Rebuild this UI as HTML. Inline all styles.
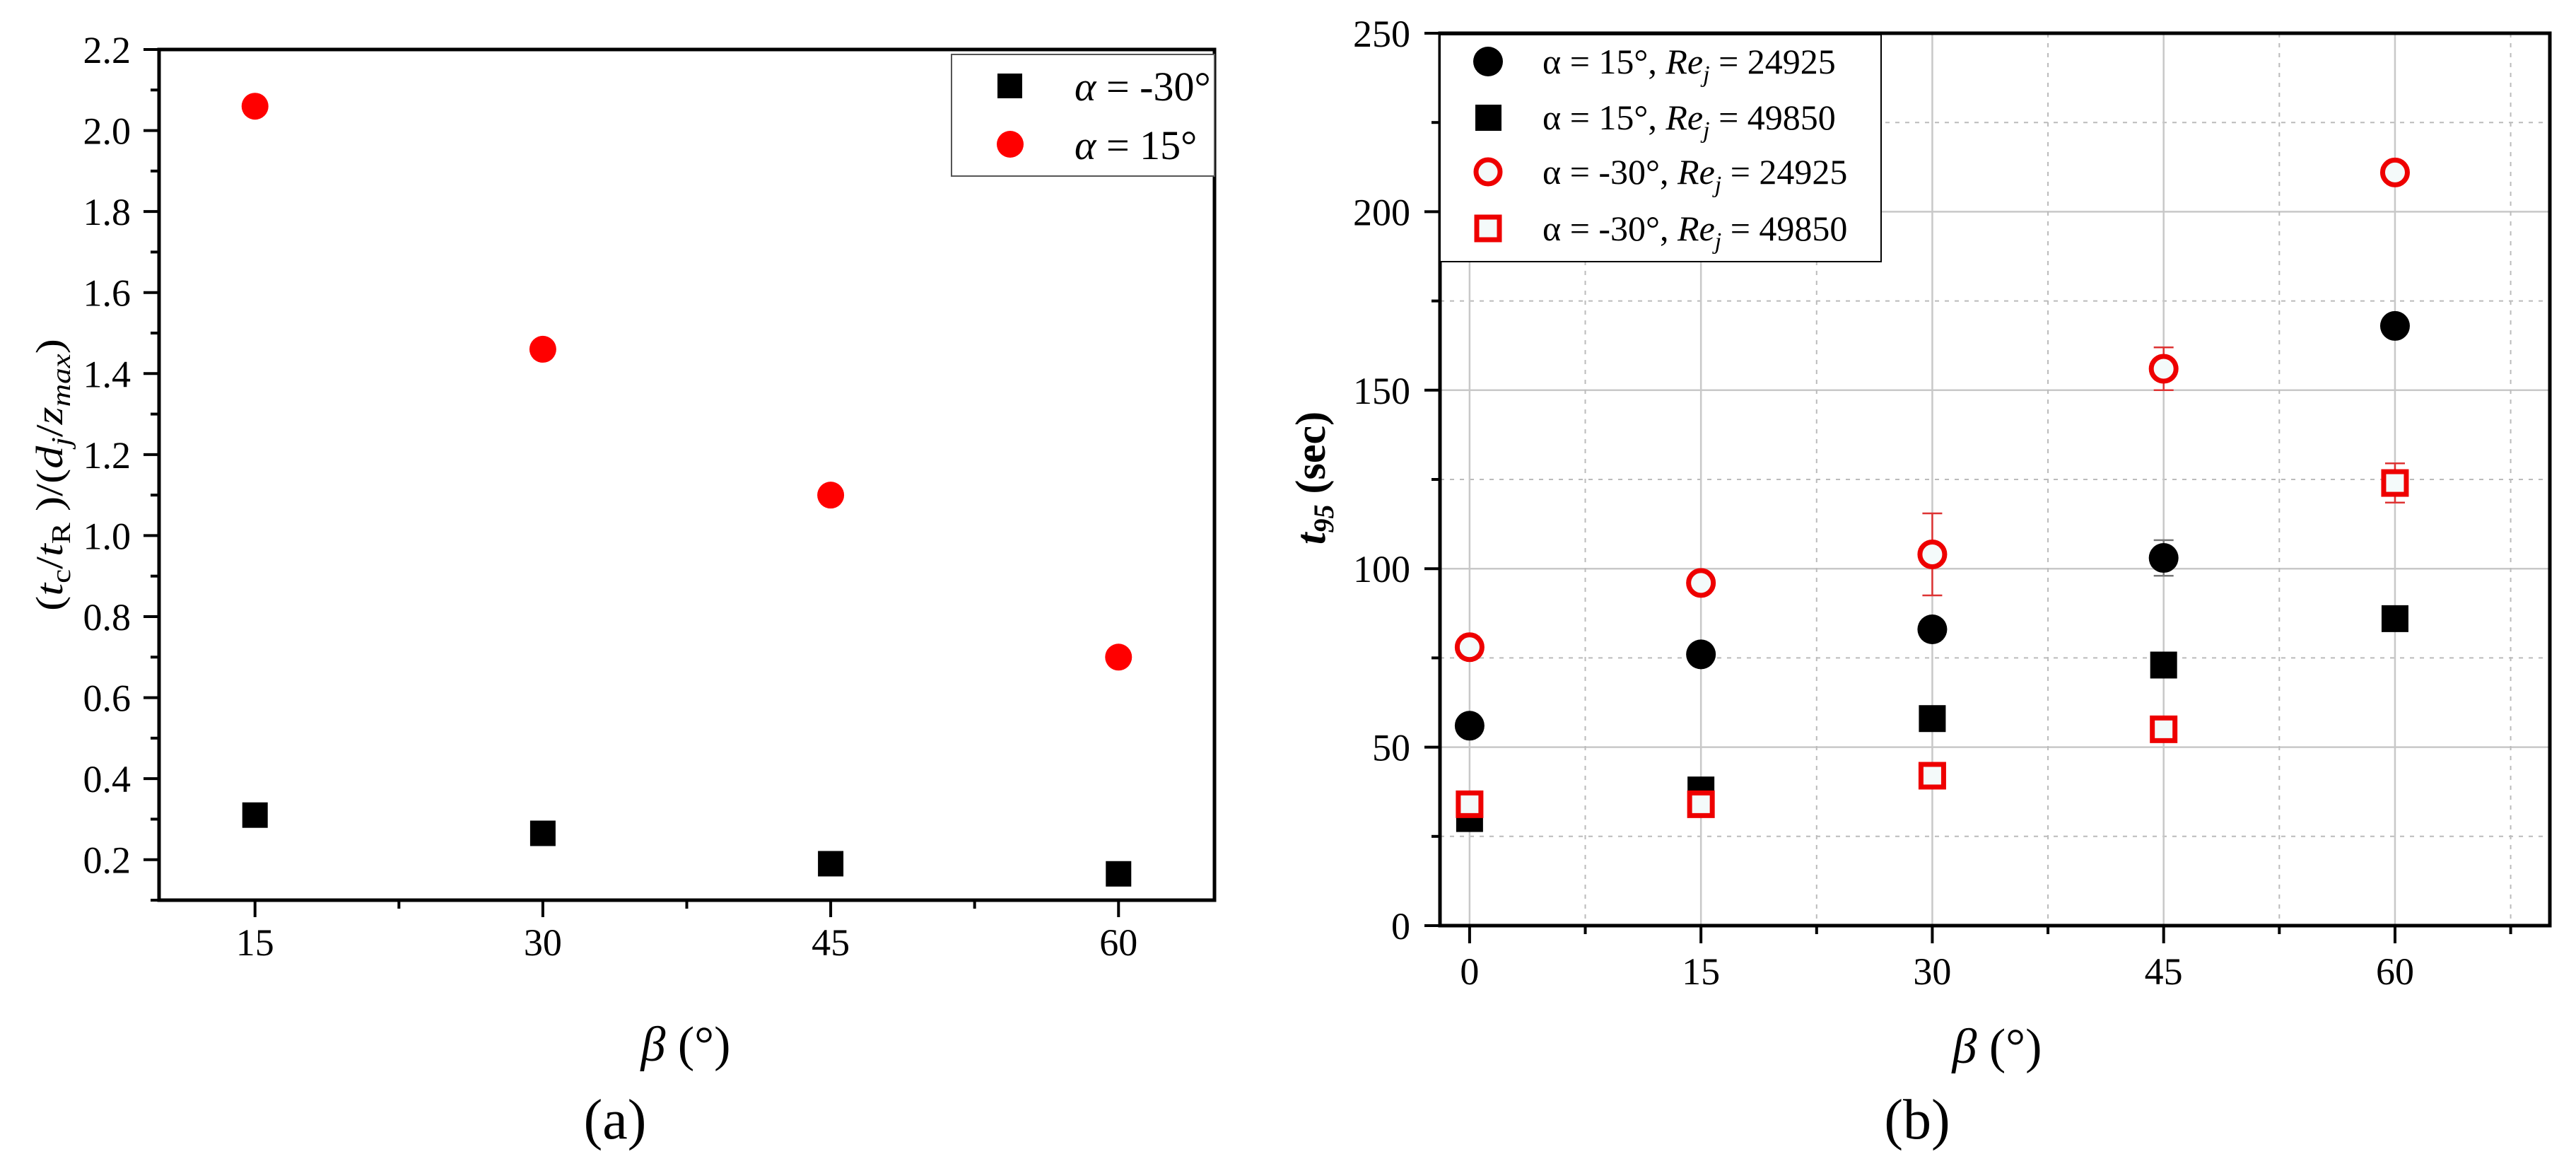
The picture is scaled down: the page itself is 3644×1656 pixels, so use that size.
<!DOCTYPE html>
<html><head><meta charset="utf-8"><style>
html,body{margin:0;padding:0;background:#fff;}
svg{display:block;font-family:"Liberation Serif",serif;}
</style></head><body>
<svg id="fig" width="3644" height="1656" viewBox="0 0 3644 1656" xmlns="http://www.w3.org/2000/svg">
<g id="pa"></g>
<g id="pb"></g>
</svg>
<script>
// Panel (a) data
const aCategories = [15, 30, 45, 60];
const aSquareVals = [0.31, 0.265, 0.19, 0.165];
const aCircleVals = [2.06, 1.46, 1.10, 0.70];
const aYTicks = ["0.2","0.4","0.6","0.8","1.0","1.2","1.4","1.6","1.8","2.0","2.2"];
const aXTicks = ["15","30","45","60"];
// Panel (b) data
const bCategories = [0, 15, 30, 45, 60];
const bCircle24925 = [56, 76, 83, 103, 168];
const bSquare49850 = [30, 38, 58, 73, 86];
const bOpenCircle24925 = [78, 96, 104, 156, 211];
const bOpenCircleErr = [3, 2, 11.5, 6, 2];
const bOpenSquare49850 = [34, 34, 42, 55, 124];
const bOpenSquareErr = [2, 2, 2, 2, 5.5];
const bCircleErr = [2, 2, 2, 5, 2];
const bYTicks = ["0","50","100","150","200","250"];
const bXTicks = ["0","15","30","45","60"];

const NS="http://www.w3.org/2000/svg";
function mk(parent,tag,attrs){const e=document.createElementNS(NS,tag);for(const k in attrs)e.setAttribute(k,attrs[k]);parent.appendChild(e);return e;}

// ---------- Panel A ----------
const pa=document.getElementById('pa');
const aL=225,aR=1718,aT=70,aB=1273,aXmin=10,aXmax=65,aYmin=0.1,aYmax=2.2;
const ax=v=>aL+(v-aXmin)/(aXmax-aXmin)*(aR-aL);
const ay=v=>aB-(v-aYmin)/(aYmax-aYmin)*(aB-aT);
let e;
e=mk(pa,'rect',{x:aL,y:aT,width:aR-aL,height:aB-aT,fill:'none',stroke:'#000','stroke-width':5});


for(let i=1;i<=22;i++){const v=i/10;const maj=(i%2===0);
 e=mk(pa,'line',{x1:aL-(maj?22:12),x2:aL,y1:ay(v),y2:ay(v),stroke:'#000','stroke-width':4});
 
 }
aYTicks.forEach(t=>{e=mk(pa,'text',{x:185,y:ay(parseFloat(t))+19,'text-anchor':'end','font-size':54});e.textContent=t;
 
 });
for(let v=15;v<=60;v+=7.5){const maj=(v%15===0);
 e=mk(pa,'line',{x1:ax(v),x2:ax(v),y1:aB,y2:aB+(maj?24:12),stroke:'#000','stroke-width':4});
 
 }
aXTicks.forEach(t=>{e=mk(pa,'text',{x:ax(+t),y:1351,'text-anchor':'middle','font-size':54});e.textContent=t;
 
 });
aCategories.forEach((c,i)=>{
 e=mk(pa,'rect',{x:ax(c)-18,y:ay(aSquareVals[i])-18,width:36,height:36,fill:'#000'});
 
 
 e=mk(pa,'circle',{cx:ax(c),cy:ay(aCircleVals[i]),r:19,fill:'#ff0000'});
 
 
});
const lgA=mk(pa,'g',{});


mk(lgA,'rect',{x:1346,y:77,width:372,height:172,fill:'#fff',stroke:'#555','stroke-width':2});
mk(lgA,'rect',{x:1411,y:104,width:35,height:35,fill:'#000'});
mk(lgA,'circle',{cx:1429,cy:204,r:19,fill:'#ff0000'});
e=mk(lgA,'text',{x:1520,y:142,'font-size':58});e.innerHTML='<tspan font-style="italic">α</tspan> = -30°';
e=mk(lgA,'text',{x:1520,y:225,'font-size':58});e.innerHTML='<tspan font-style="italic">α</tspan> = 15°';
e=mk(pa,'text',{x:0,y:0,'font-size':54,transform:'translate(88,864) rotate(-90)',textLength:385,lengthAdjust:'spacingAndGlyphs'});
e.innerHTML='(<tspan font-style="italic">t</tspan><tspan font-size="38" dy="11">c</tspan><tspan dy="-11">/</tspan><tspan font-style="italic">t</tspan><tspan font-size="38" dy="11">R</tspan><tspan dy="-11"> )/(</tspan><tspan font-style="italic">d</tspan><tspan font-size="38" font-style="italic" dy="11">j</tspan><tspan dy="-11">/</tspan><tspan font-style="italic">z</tspan><tspan font-size="38" font-style="italic" dy="11">max</tspan><tspan dy="-11">)</tspan>';


e=mk(pa,'text',{x:970,y:1500,'font-size':70,'text-anchor':'middle'});e.innerHTML='<tspan font-style="italic">β</tspan> (°)';


e=mk(pa,'text',{x:870,y:1610,'font-size':80,'text-anchor':'middle'});e.textContent='(a)';



// ---------- Panel B ----------
const pb=document.getElementById('pb');
const bL=2037,bR=3607,bT=47,bB=1309,bXmin=-1.92,bXmax=70.04,bYmin=0,bYmax=250;
const bx=v=>bL+(v-bXmin)/(bXmax-bXmin)*(bR-bL);
const by=v=>bB-(v-bYmin)/(bYmax-bYmin)*(bB-bT);
for(let v=25;v<250;v+=25){const maj=(v%50===0);
 e=mk(pb,'line',{x1:bL,x2:bR,y1:by(v),y2:by(v),stroke:maj?'#c8c8c8':'#bbbbbb','stroke-width':maj?2.5:2,'stroke-dasharray':maj?'none':'6 8'});
 
 }
for(let v=0;v<=67.5;v+=7.5){const maj=(v%15===0);
 e=mk(pb,'line',{x1:bx(v),x2:bx(v),y1:bT,y2:bB,stroke:maj?'#c8c8c8':'#bbbbbb','stroke-width':maj?2.5:2,'stroke-dasharray':maj?'none':'6 8'});
 
 }
e=mk(pb,'rect',{x:bL,y:bT,width:bR-bL,height:bB-bT,fill:'none',stroke:'#000','stroke-width':5});


for(let v=0;v<=250;v+=25){const maj=(v%50===0);
 e=mk(pb,'line',{x1:bL-(maj?22:12),x2:bL,y1:by(v),y2:by(v),stroke:'#000','stroke-width':4});
 
 }
bYTicks.forEach(t=>{e=mk(pb,'text',{x:1995,y:by(+t)+19,'text-anchor':'end','font-size':54});e.textContent=t;
 
 });
for(let v=0;v<=67.5;v+=7.5){const maj=(v%15===0);
 e=mk(pb,'line',{x1:bx(v),x2:bx(v),y1:bB,y2:bB+(maj?25:12),stroke:'#000','stroke-width':4});
 
 }
bXTicks.forEach(t=>{e=mk(pb,'text',{x:bx(+t),y:1392,'text-anchor':'middle','font-size':54});e.textContent=t;
 
 });
function errbar(c,v,err,col){
 const g=mk(pb,'g',{stroke:col,'stroke-width':2.5});
 mk(g,'line',{x1:bx(c),x2:bx(c),y1:by(v-err),y2:by(v+err)});
 mk(g,'line',{x1:bx(c)-14,x2:bx(c)+14,y1:by(v-err),y2:by(v-err)});
 mk(g,'line',{x1:bx(c)-14,x2:bx(c)+14,y1:by(v+err),y2:by(v+err)});
 
 
}
bCategories.forEach((c,i)=>{
 errbar(c,bCircle24925[i],bCircleErr[i],'#777');
 errbar(c,bOpenCircle24925[i],bOpenCircleErr[i],'#d33');
 errbar(c,bOpenSquare49850[i],bOpenSquareErr[i],'#d33');
});
bCategories.forEach((c,i)=>{
 e=mk(pb,'circle',{cx:bx(c),cy:by(bCircle24925[i]),r:21,fill:'#000'});
 
 
 e=mk(pb,'rect',{x:bx(c)-19,y:by(bSquare49850[i])-19,width:38,height:38,fill:'#000'});
 
 
 e=mk(pb,'circle',{cx:bx(c),cy:by(bOpenCircle24925[i]),r:17.5,fill:'#f4fafa',stroke:'#ee0000','stroke-width':7});
 
 
 e=mk(pb,'rect',{x:bx(c)-16,y:by(bOpenSquare49850[i])-16,width:32,height:32,fill:'#f4fafa',stroke:'#ee0000','stroke-width':7});
 
 
});
const lgB=mk(pb,'g',{});


mk(lgB,'rect',{x:2037,y:49,width:624,height:321,fill:'#fff',stroke:'#000','stroke-width':2});
mk(lgB,'circle',{cx:2105,cy:87,r:21,fill:'#000'});
mk(lgB,'rect',{x:2087,y:148,width:37,height:37,fill:'#000'});
mk(lgB,'circle',{cx:2105,cy:243,r:17,fill:'#f4fafa',stroke:'#ee0000','stroke-width':7});
mk(lgB,'rect',{x:2089,y:307,width:32,height:32,fill:'#f4fafa',stroke:'#ee0000','stroke-width':7});
const lbl=[['15°','24925'],['15°','49850'],['-30°','24925'],['-30°','49850']];
[87,166,243,323].forEach((yy,i)=>{
 const t=mk(lgB,'text',{x:2182,y:yy+17,'font-size':50});
 t.innerHTML='α = '+lbl[i][0]+', <tspan font-style="italic">Re</tspan><tspan font-style="italic" font-size="34" dy="12">j</tspan><tspan dy="-12"> = '+lbl[i][1]+'</tspan>';
 
 
});
e=mk(pb,'text',{x:0,y:0,'font-size':60,'font-weight':'bold','text-anchor':'middle',transform:'translate(1874,676) rotate(-90)'});
e.innerHTML='<tspan font-style="italic">t</tspan><tspan font-style="italic" font-size="40" dy="12">95</tspan><tspan dy="-12"> (sec)</tspan>';


e=mk(pb,'text',{x:2825,y:1503,'font-size':70,'text-anchor':'middle'});e.innerHTML='<tspan font-style="italic">β</tspan> (°)';


e=mk(pb,'text',{x:2712,y:1610,'font-size':80,'text-anchor':'middle'});e.textContent='(b)';


</script>
</body></html>
